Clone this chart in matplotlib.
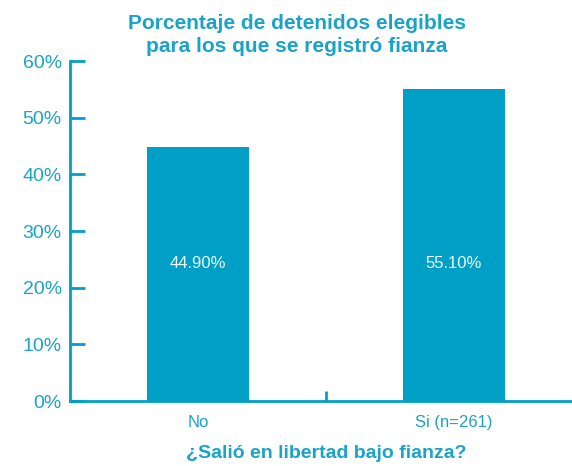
import matplotlib
matplotlib.use("Agg")
import matplotlib.pyplot as plt

categories = ["No", "Si (n=261)"]
values = [44.90, 55.10]
yticks = [0, 10, 20, 30, 40, 50, 60]

COLOR = "#00a0c6"
TEXT = "#1aa3c8"

plt.rcParams["font.family"] = ["Liberation Sans", "DejaVu Sans"]

fig = plt.figure(figsize=(5.72, 4.66), dpi=100)
ax = fig.add_axes([70 / 572, 65 / 466, 512 / 572, 340 / 466])

xs = range(len(categories))
ax.bar(xs, values, width=0.4, color=COLOR)
for x, v in zip(xs, values):
    ax.text(x, 24.2, f"{v:.2f}%", ha="center", va="center", color="#eef8fb", fontsize=12)

ax.set_xlim(-0.5, 1.5)
ax.set_ylim(0, 60)
ax.set_yticks(yticks)
ax.set_yticklabels([f"{t}%" for t in yticks], fontsize=14, color=TEXT)
ax.set_xticks([0.5])
ax.set_xticklabels([""])
for x, c in zip(xs, categories):
    ax.text(x, -3.8, c, ha="center", va="center", fontsize=12, color=TEXT)

ax.tick_params(axis="x", direction="in", length=7, width=2, color=COLOR)
ax.tick_params(axis="y", direction="in", length=11, width=2, color=COLOR, pad=6)
for side in ("top", "right"):
    ax.spines[side].set_visible(False)
for side in ("left", "bottom"):
    ax.spines[side].set_color(COLOR)
    ax.spines[side].set_linewidth(2)

ax.text(0.5, -9.2, "¿Salió en libertad bajo fianza?", ha="center", va="center",
        fontsize=14, fontweight="bold", color=TEXT)
fig.text(297 / 572, 1 - 35 / 466, "Porcentaje de detenidos elegibles\npara los que se registró fianza",
         ha="center", va="center", fontsize=15, fontweight="bold", color=TEXT, linespacing=1.3)

fig.savefig("out.png", dpi=100)
